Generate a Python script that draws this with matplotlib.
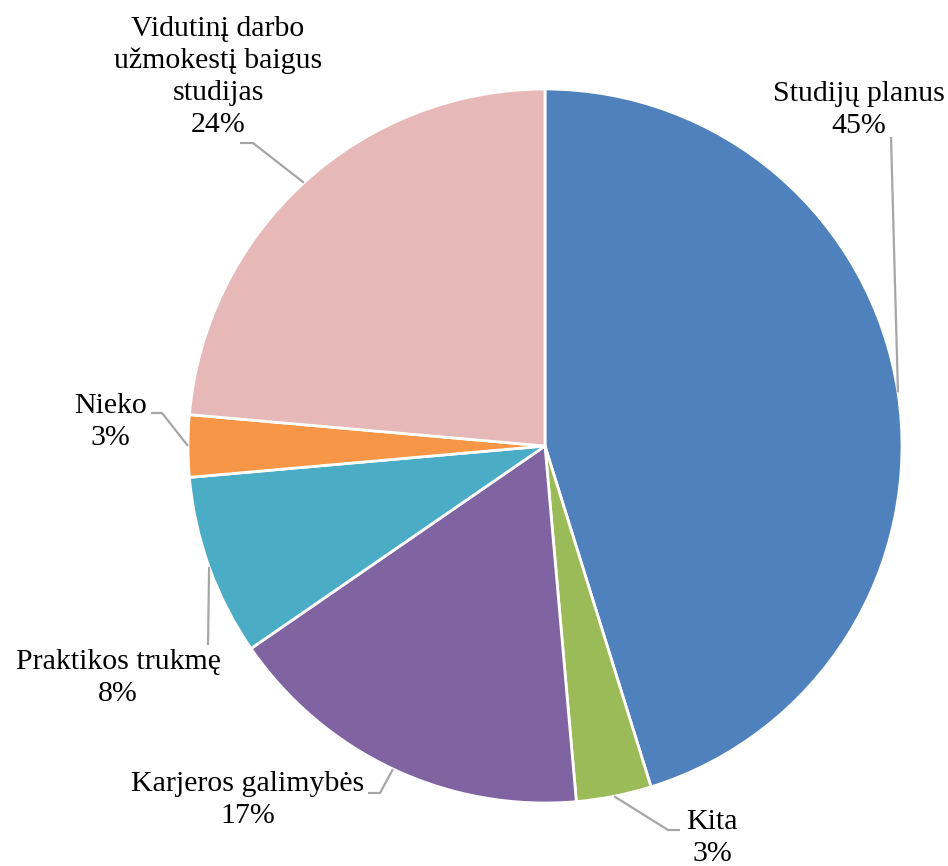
import numpy as np
import matplotlib
matplotlib.use("Agg")
import matplotlib.pyplot as plt

# Shares (clockwise from 12 o'clock)
categories = ["Studijų planus", "Kita", "Karjeros galimybės", "Praktikos trukmę",
              "Nieko", "Vidutinį darbo\nužmokestį baigus\nstudijas"]
shares = [45.2, 3.4, 16.8, 8.2, 2.8, 23.6]
colors = ["#4F81BD", "#9BBB59", "#8064A2", "#4BACC6", "#F79646", "#E6B9B8"]

W, H = 948, 866
CX, CY, R = 545, 446, 357


def px(x, y):
    # pixel position -> data units of the pie
    return (x - CX) / R, (CY - y) / R


# label centres and leader-line elbows, in pixels
label_pos = [(859, 110), (712, 838), (248, 800), (118, 678), (110, 422), (218, 77)]
elbows = [[(891, 137)],
          [(668, 830), (680, 830)],
          [(380, 793), (368, 793)],
          [(208, 645)],
          [(162, 413), (151, 413)],
          [(253, 143), (240, 143)]]

plt.rcParams["font.family"] = ["Liberation Serif", "DejaVu Serif"]

fig = plt.figure(figsize=(W / 100, H / 100), dpi=100)
ax = fig.add_axes([0, 0, 1, 1])

wedges, _ = ax.pie(shares, colors=colors, startangle=90, counterclock=False,
                   radius=1, wedgeprops=dict(edgecolor="white", linewidth=2))

total = sum(shares)
for w, cat, val, lp, el in zip(wedges, categories, shares, label_pos, elbows):
    mid = np.deg2rad((w.theta1 + w.theta2) / 2)
    xs = [np.cos(mid)] + [px(*p)[0] for p in el]
    ys = [np.sin(mid)] + [px(*p)[1] for p in el]
    ax.plot(xs, ys, color="#A6A6A6", lw=1.6, solid_capstyle="butt")
    tx, ty = px(*lp)
    ax.text(tx, ty, f"{cat}\n{round(val / total * 100)}%", ha="center", va="center",
            fontsize=21.5, color="black", linespacing=1.3)

ax.set_xlim(-CX / R, (W - CX) / R)
ax.set_ylim(-(H - CY) / R, CY / R)
ax.set_aspect("equal")
ax.axis("off")

fig.savefig("out.png", dpi=100, facecolor="white")
